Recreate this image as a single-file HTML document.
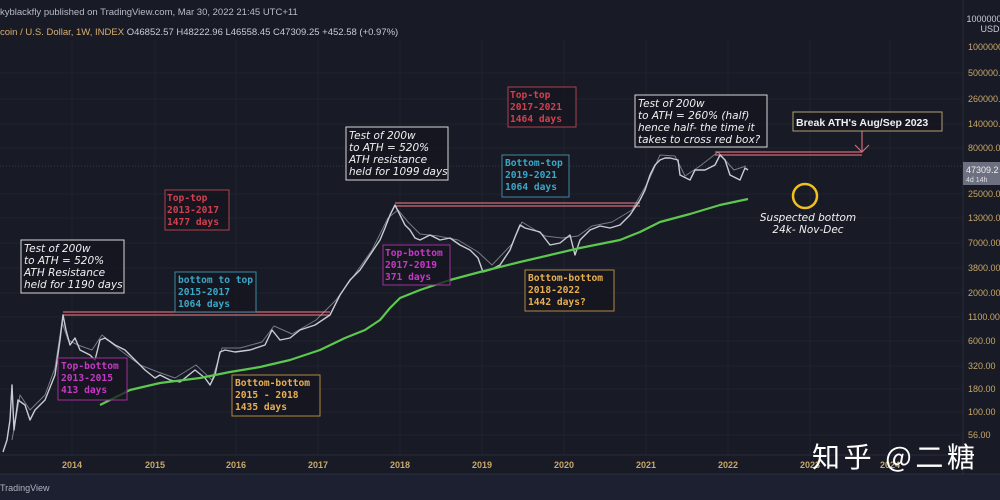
<!DOCTYPE html>
<html><head><meta charset="utf-8"><style>
html,body{margin:0;padding:0;background:#181a25;width:1000px;height:500px;overflow:hidden}
svg{display:block}
.s{font-family:"Liberation Sans",sans-serif}
.i{font-family:"DejaVu Sans","Liberation Sans",sans-serif;font-style:italic;font-size:10.5px;fill:#f2f2f2}
.m{font-family:"DejaVu Sans Mono","Liberation Mono",monospace;font-size:9.6px;font-weight:bold}
.ax{font-family:"Liberation Sans",sans-serif;font-size:9px;fill:#c8a86a}
</style></head><body>
<svg width="1000" height="500" viewBox="0 0 1000 500" xmlns="http://www.w3.org/2000/svg">
<rect width="1000" height="500" fill="#181a25"/>
<rect x="0" y="474" width="1000" height="26" fill="#1d2030"/>
<line x1="0" y1="474" x2="1000" y2="474" stroke="#2a2e3c"/>
<line x1="963" y1="0" x2="963" y2="474" stroke="#2a2e3c"/>
<line x1="0" y1="455" x2="963" y2="455" stroke="#2a2e3c"/>
<g stroke="#20232f" stroke-width="1">
<line x1="72" y1="40" x2="72" y2="455"/><line x1="155" y1="40" x2="155" y2="455"/><line x1="236" y1="40" x2="236" y2="455"/><line x1="318" y1="40" x2="318" y2="455"/><line x1="400" y1="40" x2="400" y2="455"/><line x1="482" y1="40" x2="482" y2="455"/><line x1="564" y1="40" x2="564" y2="455"/><line x1="646" y1="40" x2="646" y2="455"/><line x1="728" y1="40" x2="728" y2="455"/><line x1="810" y1="40" x2="810" y2="455"/><line x1="890" y1="40" x2="890" y2="455"/>
<line x1="0" y1="73" x2="963" y2="73"/><line x1="0" y1="99" x2="963" y2="99"/><line x1="0" y1="124" x2="963" y2="124"/><line x1="0" y1="148" x2="963" y2="148"/><line x1="0" y1="194" x2="963" y2="194"/><line x1="0" y1="218" x2="963" y2="218"/><line x1="0" y1="243" x2="963" y2="243"/><line x1="0" y1="268" x2="963" y2="268"/><line x1="0" y1="293" x2="963" y2="293"/><line x1="0" y1="317" x2="963" y2="317"/><line x1="0" y1="341" x2="963" y2="341"/><line x1="0" y1="366" x2="963" y2="366"/><line x1="0" y1="389" x2="963" y2="389"/><line x1="0" y1="412" x2="963" y2="412"/><line x1="0" y1="435" x2="963" y2="435"/>
</g>
<line x1="0" y1="166" x2="963" y2="166" stroke="#3a3e4c" stroke-dasharray="1,2"/>
<text x="0" y="15" class="s" font-size="9.5" fill="#b8bcc8">kyblackfly published on TradingView.com, Mar 30, 2022 21:45 UTC+11</text>
<text x="0" y="35" class="s" font-size="9.5" fill="#d8b070">coin / U.S. Dollar, 1W, INDEX <tspan fill="#c8ccd8">O46852.57 H48222.96 L46558.45 C47309.25 +452.58 (+0.97%)</tspan></text>
<g stroke="#d06a78" stroke-width="1.2" fill="none">
<line x1="63" y1="312" x2="330" y2="312"/><line x1="63" y1="315" x2="330" y2="315"/>
<line x1="395" y1="203" x2="640" y2="203"/><line x1="395" y1="206" x2="640" y2="206"/>
<line x1="715" y1="152" x2="862" y2="152"/><line x1="715" y1="155" x2="862" y2="155"/>
<line x1="862" y1="131" x2="862" y2="152"/><polyline points="855,145 862,152 869,145"/>
</g>
<g fill="none" stroke="#c9ccd4" stroke-linejoin="round">
<polyline stroke-width="1.4" points="3,452 7,440 10,420 12,385 14,430 18,400 25,405 30,420 35,410 45,400 55,375 60,340 63,315 66,330 70,345 75,338 80,350 90,355 95,360 100,340 105,338 115,345 125,350 135,360 145,370 155,378 160,375 170,380 180,382 195,370 205,378 210,385 215,375 220,352 225,350 235,352 250,350 265,345 272,330 280,340 290,338 300,330 315,325 330,315 340,295 350,280 360,270 370,255 380,240 385,228 390,215 395,205 400,215 405,225 410,230 415,238 420,240 430,235 440,240 450,238 460,245 470,250 478,258 483,272 490,270 500,265 510,250 515,237 520,225 525,228 540,232 550,245 560,243 570,235 575,255 580,240 590,230 600,226 610,228 620,225 630,215 640,200 645,190 650,175 655,165 660,160 665,158 670,158 678,160 680,175 690,180 695,170 705,170 715,165 720,155 725,160 730,175 740,180 745,168 748,170"/>
<polyline stroke-width="1" stroke-opacity="0.55" points="12,440 20,395 30,410 45,395 55,368 62,322 68,340 78,345 92,350 102,335 120,350 140,365 158,372 175,378 196,365 212,380 222,348 240,348 262,342 274,326 292,334 316,320 336,300 355,274 372,250 388,218 398,210 408,222 420,234 438,236 458,240 478,252 492,265 512,244 522,222 545,236 562,238 578,236 592,226 612,222 632,210 648,182 660,155 675,156 685,176 700,166 718,152 734,170 746,166"/>
</g>
<polyline fill="none" stroke="#5cc84e" stroke-width="2.2" stroke-linejoin="round" points="100,405 130,390 160,383 200,378 230,372 260,367 290,360 320,350 345,338 365,330 380,320 390,308 400,298 420,290 450,280 480,272 520,262 550,255 580,248 620,240 640,232 660,222 690,214 720,205 748,199"/>
<g fill="#14161f" fill-opacity="0.75" stroke-width="1">
<rect x="21" y="240" width="103" height="53" stroke="#d8d8d8"/>
<rect x="165" y="190" width="64" height="40" stroke="#b04050"/>
<rect x="175" y="272" width="81" height="40" stroke="#3a8aa0"/>
<rect x="58" y="358" width="69" height="42" stroke="#a030a0"/>
<rect x="232" y="375" width="88" height="41" stroke="#b08a40"/>
<rect x="346" y="127" width="102" height="53" stroke="#d8d8d8"/>
<rect x="383" y="245" width="67" height="40" stroke="#a030a0"/>
<rect x="508" y="87" width="68" height="40" stroke="#b04050"/>
<rect x="502" y="155" width="67" height="42" stroke="#3a8aa0"/>
<rect x="525" y="270" width="89" height="41" stroke="#b08a40"/>
<rect x="635" y="95" width="132" height="52" stroke="#d8d8d8"/>
<rect x="793" y="112" width="149" height="19" stroke="#b0a070"/>
</g>
<text class="i"><tspan x="24" y="252">Test of 200w</tspan><tspan x="24" y="264">to ATH = 520%</tspan><tspan x="24" y="276">ATH Resistance</tspan><tspan x="24" y="288">held for 1190 days</tspan></text>
<text class="i"><tspan x="349" y="139">Test of 200w</tspan><tspan x="349" y="151">to ATH = 520%</tspan><tspan x="349" y="163">ATH resistance</tspan><tspan x="349" y="175">held for 1099 days</tspan></text>
<text class="i"><tspan x="638" y="107">Test of 200w</tspan><tspan x="638" y="119">to ATH = 260% (half)</tspan><tspan x="638" y="131">hence half- the time it</tspan><tspan x="638" y="143">takes to cross red box?</tspan></text>
<text class="m" fill="#d24050"><tspan x="167" y="201">Top-top</tspan><tspan x="167" y="213">2013-2017</tspan><tspan x="167" y="225">1477 days</tspan></text>
<text class="m" fill="#d24050"><tspan x="510" y="98">Top-top</tspan><tspan x="510" y="110">2017-2021</tspan><tspan x="510" y="122">1464 days</tspan></text>
<text class="m" fill="#3aa8c8"><tspan x="178" y="283">bottom to top</tspan><tspan x="178" y="295">2015-2017</tspan><tspan x="178" y="307">1064 days</tspan></text>
<text class="m" fill="#3aa8c8"><tspan x="505" y="166">Bottom-top</tspan><tspan x="505" y="178">2019-2021</tspan><tspan x="505" y="190">1064 days</tspan></text>
<text class="m" fill="#c838c8"><tspan x="61" y="369">Top-bottom</tspan><tspan x="61" y="381">2013-2015</tspan><tspan x="61" y="393">413 days</tspan></text>
<text class="m" fill="#c838c8"><tspan x="385" y="256">Top-bottom</tspan><tspan x="385" y="268">2017-2019</tspan><tspan x="385" y="280">371 days</tspan></text>
<text class="m" fill="#e8b050"><tspan x="235" y="386">Bottom-bottom</tspan><tspan x="235" y="398">2015 - 2018</tspan><tspan x="235" y="410">1435 days</tspan></text>
<text class="m" fill="#e8b050"><tspan x="528" y="281">Bottom-bottom</tspan><tspan x="528" y="293">2018-2022</tspan><tspan x="528" y="305">1442 days?</tspan></text>
<text x="796" y="126" class="s" font-size="10.5" font-weight="bold" fill="#f0f0f0">Break ATH's Aug/Sep 2023</text>
<circle cx="805" cy="196" r="12" fill="none" stroke="#f0c020" stroke-width="2.5"/>
<text class="i" text-anchor="middle"><tspan x="808" y="221">Suspected bottom</tspan><tspan x="808" y="233">24k- Nov-Dec</tspan></text>
<text x="984" y="22" class="ax" text-anchor="middle" style="fill:#c8ccd8">1000000</text>
<text x="990" y="32" class="ax" text-anchor="middle" style="fill:#c8ccd8">USD</text>
<g class="ax"><text x="968" y="50">1000000</text><text x="968" y="76">500000.</text><text x="968" y="102">260000.</text><text x="968" y="127">140000.</text><text x="968" y="151">80000.0</text><text x="968" y="197">25000.0</text><text x="968" y="221">13000.0</text><text x="968" y="246">7000.00</text><text x="968" y="271">3800.00</text><text x="968" y="296">2000.00</text><text x="968" y="320">1100.00</text><text x="968" y="344">600.00</text><text x="968" y="369">320.00</text><text x="968" y="392">180.00</text><text x="968" y="415">100.00</text><text x="968" y="438">56.00</text></g>
<rect x="963" y="162" width="37" height="23" fill="#6c7080"/>
<text x="966" y="173" class="s" font-size="9" fill="#f0f0f0">47309.2</text>
<text x="966" y="182" class="s" font-size="7" fill="#e0e0e0">4d 14h</text>
<g class="ax" text-anchor="middle" font-weight="bold"><text x="72" y="468">2014</text><text x="155" y="468">2015</text><text x="236" y="468">2016</text><text x="318" y="468">2017</text><text x="400" y="468">2018</text><text x="482" y="468">2019</text><text x="564" y="468">2020</text><text x="646" y="468">2021</text><text x="728" y="468">2022</text><text x="810" y="468">2023</text><text x="890" y="468">2024</text></g>
<text x="0" y="491" class="s" font-size="9" fill="#b0b4c0">TradingView</text>
<text x="812" y="467" font-family="'Noto Sans CJK SC',sans-serif" font-size="28" fill="#ffffff" textLength="163">知乎 @二糖</text>
</svg>
</body></html>
